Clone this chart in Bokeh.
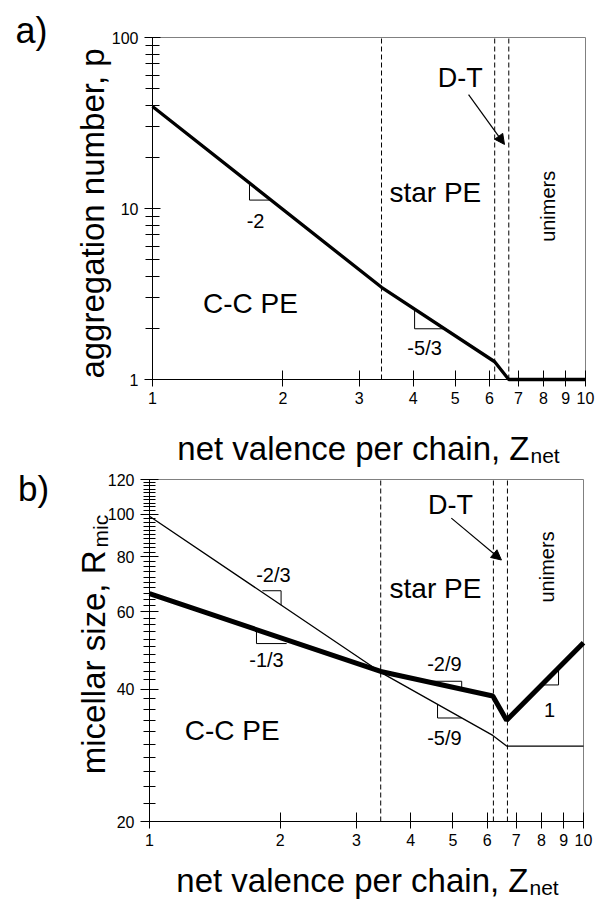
import math
from bokeh.plotting import figure
from bokeh.models import (FixedTicker, CustomJSTickFormatter, Label, Arrow, NormalHead)
from bokeh.layouts import column
from bokeh.embed import file_html
from bokeh.resources import INLINE

FONT = "Liberation Sans"

# ---------------- panel a data ----------------
agg_x = [1.0, 3.38, 6.17, 6.65, 10.0]
agg_p = [39.5, 3.46, 1.27, 1.0, 1.0]
a_bounds = [3.38, 6.17, 6.65]
a_xticks = [1, 2, 3, 4, 5, 6, 7, 8, 9, 10]
a_yticks = [1, 10, 100]
a_yminor = [2, 3, 4, 5, 6, 7, 8, 9, 20, 30, 40, 50, 60, 70, 80, 90]
a_tri_x = [[1.675, 1.675, 1.88], [4.03, 4.03, 4.70]]
a_tri_y = [[14.0, 11.2, 11.2], [2.58, 1.98, 1.98]]
a_slope_text = ["-2", "-5/3"]
a_slope_x = [1.73, 4.25]
a_slope_y = [8.5, 1.52]
a_region_text = ["C-C PE", "star PE", "D-T"]
a_region_x = [1.684, 4.50, 5.14]
a_region_y = [2.78, 12.4, 57.6]
a_unimers = (8.21, 10.3)
a_arrow = (5.37, 46.4, 6.50, 23.7)

# ---------------- panel b data ----------------
rmic_x = [1.0, 3.41, 6.18, 6.65, 10.0]
rmic_thick = [66.0, 43.9, 38.6, 34.0, 51.0]
rmic_thin = [99.0, 43.7, 31.4, 29.7, 29.7]
b_bounds = [3.41, 6.2, 6.68]
b_xticks = [1, 2, 3, 4, 5, 6, 7, 8, 9, 10]
b_yticks = [20, 40, 60, 80, 100, 120]
b_yminor = [v for v in range(22, 120, 2) if v not in b_yticks]
b_tri_x = [[1.82, 2.01, 2.01], [1.764, 1.764, 2.07], [4.35, 5.24, 5.24],
           [4.61, 4.61, 5.24], [8.0, 8.76, 8.76]]
b_tri_y = [[67.0, 67.0, 62.1], [54.6, 50.8, 50.8], [41.7, 41.7, 39.9],
           [37.0, 34.4, 34.4], [40.9, 40.9, 44.8]]
b_slope_text = ["-2/3", "-1/3", "-2/9", "-5/9", "1"]
b_slope_x = [1.93, 1.86, 4.78, 4.78, 8.35]
b_slope_y = [72.8, 46.5, 45.6, 31.0, 35.8]
b_region_text = ["C-C PE", "star PE", "D-T"]
b_region_x = [1.55, 4.56, 4.94]
b_region_y = [32.3, 67.7, 104.9]
b_unimers = (8.22, 75.9)
b_arrow = (4.96, 98.0, 6.47, 78.7)

# ---------------- layout (page pixels) ----------------
W = 595
MARGIN = 0   # bokeh's page template has no body margin


def make_fig(top, H, box, xb, yb, xt, yt, ym, ytick_len):
    """box = (left, right, top, bottom) of the axes box in page pixels."""
    L, R, T, B = box
    lx0, lx1 = math.log10(xb[0]), math.log10(xb[1])
    ly0, ly1 = math.log10(yb[0]), math.log10(yb[1])
    ppx = (R - L) / (lx1 - lx0)
    ppy = (B - T) / (ly1 - ly0)
    xr = (10 ** (lx0 - (L - MARGIN) / ppx), 10 ** (lx1 + (MARGIN + W - R) / ppx))
    yr = (10 ** (ly0 - (top + H - B) / ppy), 10 ** (ly1 + (T - top) / ppy))
    p = figure(width=W, height=H, x_axis_type="log", y_axis_type="log",
               x_range=xr, y_range=yr, output_backend="svg", toolbar_location=None,
               min_border=0, min_border_left=0, min_border_right=0,
               min_border_top=0, min_border_bottom=0)
    p.grid.visible = False
    p.outline_line_color = None
    p.background_fill_color = "white"
    p.border_fill_color = "white"
    p.xaxis.ticker = FixedTicker(ticks=xt, minor_ticks=[])
    p.yaxis.ticker = FixedTicker(ticks=yt, minor_ticks=ym)
    p.xaxis.fixed_location = yb[0]
    p.yaxis.fixed_location = xb[0]
    p.xaxis.bounds = xb
    p.yaxis.bounds = yb
    for ax in (p.xaxis[0], p.yaxis[0]):
        ax.axis_line_color = "black"
        ax.axis_line_width = 1
        ax.major_tick_line_color = "black"
        ax.minor_tick_line_color = "black"
        ax.major_label_text_font = FONT
        ax.major_label_text_font_size = "16px"
        ax.major_label_text_color = "black"
        ax.formatter = CustomJSTickFormatter(code="return String(tick)")
    p.xaxis.major_tick_in = 9
    p.xaxis.major_tick_out = 7
    p.xaxis.minor_tick_in = 0
    p.xaxis.minor_tick_out = 0
    p.xaxis.major_label_standoff = 5
    p.yaxis.major_tick_in = ytick_len[0]
    p.yaxis.major_tick_out = ytick_len[0]
    p.yaxis.minor_tick_in = ytick_len[1]
    p.yaxis.minor_tick_out = ytick_len[1]
    p.yaxis.major_label_standoff = 6
    # thin grey top and right frame lines
    p.segment(x0=[xb[0], xb[1]], y0=[yb[1], yb[0]], x1=[xb[1], xb[1]], y1=[yb[1], yb[1]],
              line_color="#808080", line_width=1)
    p._top = top
    p._H = H
    return p


def lab(p, x, y, text, size, angle=0.0, align="center", baseline="middle"):
    p.add_layout(Label(x=x, y=y, text=text, text_font=FONT, text_font_size=size,
                       text_color="black", angle=angle, text_align=align,
                       text_baseline=baseline))


def lab_px(p, px, py, text, size, angle=0.0, align="center", baseline="middle"):
    p.add_layout(Label(x=px - MARGIN, y=p._top + p._H - py, x_units="screen",
                       y_units="screen", text=text, text_font=FONT,
                       text_font_size=size, text_color="black", angle=angle,
                       text_align=align, text_baseline=baseline))


def decorate(p, yb, bounds, tri_x, tri_y, st, sx, sy, rt, rx, ry, uni, arr):
    p.segment(x0=bounds, x1=bounds, y0=[yb[0]] * len(bounds), y1=[yb[1]] * len(bounds),
              line_color="black", line_width=1, line_dash="5 3")
    p.multi_line(tri_x, tri_y, line_color="black", line_width=1)
    for t, x, y in zip(st, sx, sy):
        lab(p, x, y, t, "20px")
    for t, x, y in zip(rt, rx, ry):
        lab(p, x, y, t, "28px" if t != "D-T" else "27px")
    lab(p, uni[0], uni[1], "unimers", "20px", angle=math.pi / 2)
    p.add_layout(Arrow(end=NormalHead(size=10, fill_color="black", line_color="black"),
                       x_start=arr[0], y_start=arr[1], x_end=arr[2], y_end=arr[3],
                       line_color="black", line_width=1.2))


# ---------------- panel a ----------------
HA = 470
pa = make_fig(MARGIN, HA, (152, 585, 37, 379), (1, 10), (1, 100),
              a_xticks, a_yticks, a_yminor, (8, 7))
decorate(pa, (1, 100), a_bounds, a_tri_x, a_tri_y, a_slope_text, a_slope_x, a_slope_y,
         a_region_text, a_region_x, a_region_y, a_unimers, a_arrow)
pa.line(agg_x, agg_p, line_color="black", line_width=3.3)
lab_px(pa, 31, 30, "a)", "36px")
lab_px(pa, 92, 213, "aggregation number, p", "33px", angle=math.pi / 2,
       baseline="alphabetic")
lab_px(pa, 529, 448, "net valence per chain, Z", "33px", align="right",
       baseline="alphabetic")
lab_px(pa, 530, 455, "net", "21px", align="left", baseline="alphabetic")

# ---------------- panel b ----------------
HB = 430
pb = make_fig(MARGIN + HA, HB, (149, 583, 479, 821), (1, 10), (20, 120),
              b_xticks, b_yticks, b_yminor, (9, 6))
decorate(pb, (20, 120), b_bounds, b_tri_x, b_tri_y, b_slope_text, b_slope_x, b_slope_y,
         b_region_text, b_region_x, b_region_y, b_unimers, b_arrow)
pb.line(rmic_x, rmic_thin, line_color="black", line_width=1.3)
pb.line(rmic_x, rmic_thick, line_color="black", line_width=5)
lab_px(pb, 33, 488, "b)", "35px")
lab_px(pb, 93, 550, "micellar size, R", "33px", angle=math.pi / 2, align="right",
       baseline="alphabetic")
lab_px(pb, 100, 547, "mic", "21px", angle=math.pi / 2, align="left",
       baseline="alphabetic")
lab_px(pb, 528, 880, "net valence per chain, Z", "33px", align="right",
       baseline="alphabetic")
lab_px(pb, 529, 887, "net", "21px", align="left", baseline="alphabetic")

layout = column(pa, pb)
open("out.html", "w").write(file_html(layout, INLINE))
